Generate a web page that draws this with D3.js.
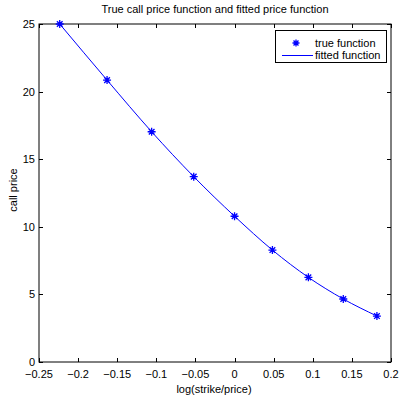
<!DOCTYPE html>
<html><head><meta charset="utf-8">
<script src="https://cdn.jsdelivr.net/npm/d3@7"></script>
<style>body{margin:0;background:#fff}svg{display:block}text{font-family:"Liberation Sans",Arial,sans-serif;fill:#000}</style>
</head><body>
<script>
const logMoneyness = [-0.2235, -0.163, -0.106, -0.0522, 0.0, 0.0484, 0.0944, 0.139, 0.182];
const truePrice   = [25.0, 20.85, 17.03, 13.71, 10.78, 8.28, 6.26, 4.66, 3.40];
const fittedPrice = [25.0, 20.85, 17.03, 13.71, 10.78, 8.28, 6.26, 4.66, 3.40];
const xTicks = [-0.25, -0.2, -0.15, -0.1, -0.05, 0, 0.05, 0.1, 0.15, 0.2];
const xTickLabels = ["\u22120.25","\u22120.2","\u22120.15","\u22120.1","\u22120.05","0","0.05","0.1","0.15","0.2"];
const yTicks = [0, 5, 10, 15, 20, 25];
const title = "True call price function and fitted price function";
const xLabel = "log(strike/price)";
const yLabel = "call price";
const legendLabels = ["true function", "fitted function"];

const W = 400, H = 403;
const L = 39, R = 391, T = 24, B = 362;
const svg = d3.select("body").append("svg").attr("width", W).attr("height", H);
const x = d3.scaleLinear().domain([-0.25, 0.2]).range([L, R]);
const y = d3.scaleLinear().domain([0, 25]).range([B, T]);
const tk = 4;

// box
svg.append("rect").attr("x", L).attr("y", T).attr("width", R - L).attr("height", B - T)
  .attr("fill", "none").attr("stroke", "#000").attr("stroke-width", 1);

// axes ticks (inward, all sides)
const g = svg.append("g").attr("stroke", "#000").attr("stroke-width", 1);
xTicks.forEach(v => {
  const px = Math.round(x(v)) + 0.5;
  g.append("line").attr("x1", px).attr("x2", px).attr("y1", B).attr("y2", B - tk);
  g.append("line").attr("x1", px).attr("x2", px).attr("y1", T).attr("y2", T + tk);
});
yTicks.forEach(v => {
  const py = Math.round(y(v)) + 0.5;
  g.append("line").attr("x1", L).attr("x2", L + tk).attr("y1", py).attr("y2", py);
  g.append("line").attr("x1", R).attr("x2", R - tk).attr("y1", py).attr("y2", py);
});
svg.append("g").selectAll("text").data(xTicks).join("text")
  .attr("x", d => x(d)).attr("y", B + 16).attr("text-anchor", "middle")
  .attr("font-size", 11).text((d, i) => xTickLabels[i]);
svg.append("g").selectAll("text").data(yTicks).join("text")
  .attr("x", L - 4).attr("y", d => y(d) + 4).attr("text-anchor", "end")
  .attr("font-size", 11).text(d => d);

svg.append("text").attr("x", 215).attr("y", 13).attr("text-anchor", "middle").attr("font-size", 11).text(title);
svg.append("text").attr("x", 214).attr("y", 393).attr("text-anchor", "middle").attr("font-size", 11).text(xLabel);
svg.append("text").attr("transform", "translate(17,190) rotate(-90)").attr("text-anchor", "middle").attr("font-size", 11).text(yLabel);

// fitted line
const data = logMoneyness.map((v, i) => ({x: v, t: truePrice[i], f: fittedPrice[i]}));
svg.append("path").datum(data)
  .attr("d", d3.line().x(d => x(d.x)).y(d => y(d.f)).curve(d3.curveMonotoneX))
  .attr("fill", "none").attr("stroke", "#0000ff").attr("stroke-width", 1);

function star(sel, cx, cy, r) {
  const a = r * 0.707;
  sel.append("path").attr("d",
    `M${cx-r},${cy}L${cx+r},${cy}M${cx},${cy-r}L${cx},${cy+r}M${cx-a},${cy-a}L${cx+a},${cy+a}M${cx-a},${cy+a}L${cx+a},${cy-a}`)
    .attr("stroke", "#0000ff").attr("stroke-width", 1.3).attr("fill", "none");
}
const mk = svg.append("g");
data.forEach(d => star(mk, x(d.x), y(d.t), 4));

// legend
svg.append("rect").attr("x", 275.5).attr("y", 30.5).attr("width", 111).attr("height", 32)
  .attr("fill", "#fff").attr("stroke", "#000").attr("stroke-width", 1);
star(svg, 296, 43, 3.5);
svg.append("line").attr("x1", 282).attr("x2", 313).attr("y1", 55.5).attr("y2", 55.5)
  .attr("stroke", "#0000ff").attr("stroke-width", 1);
svg.append("text").attr("x", 315).attr("y", 47).attr("font-size", 11).text(legendLabels[0]);
svg.append("text").attr("x", 315).attr("y", 59).attr("font-size", 11).text(legendLabels[1]);
</script>
</body></html>
